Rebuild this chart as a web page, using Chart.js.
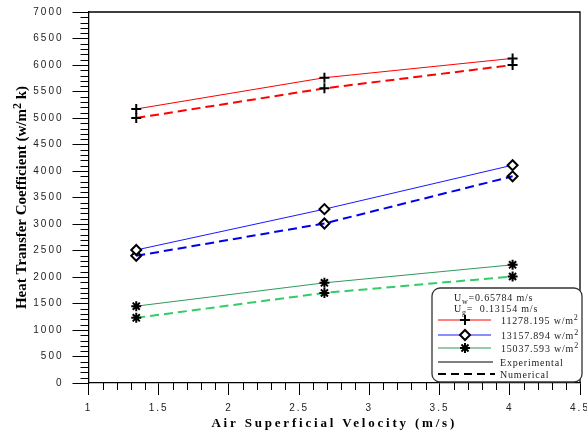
<!DOCTYPE html>
<html lang="en">
<head>
<meta charset="UTF-8">
<title>Heat Transfer Coefficient</title>
<script src="https://cdn.jsdelivr.net/npm/chart.js"></script>
<style>
  html, body { margin: 0; padding: 0; background: #fff; }
  #wrap { width: 587px; height: 434px; }
</style>
</head>
<body>
<div id="wrap"><canvas id="myChart" width="587" height="434"></canvas></div>
<script>
// air superficial velocity (m/s)
const airVelocity = [1.34, 2.68, 4.02];

// heat flux 11278.195 w/m2
const exp11278 = [5170, 5760, 6125];
const num11278 = [5000, 5560, 6000];
// heat flux 13157.894 w/m2
const exp13157 = [2510, 3280, 4110];
const num13157 = [2400, 3010, 3900];
// heat flux 15037.593 w/m2
const exp15037 = [1450, 1890, 2230];
const num15037 = [1230, 1700, 2010];

const fluxLabels = ['11278.195', '13157.894', '15037.593'];
const xTitle = 'Air Superficial Velocity (m/s)';
const yTitle = 'Heat Transfer Coefficient (w/m';

function pts(ys) {
  return ys.map((y, i) => ({ x: airVelocity[i], y: y }));
}

const red = '#ff0000', blue = '#1a1aff', blueDash = '#0000ee';
const green = '#2f9a5c', greenDash = '#33cc66';

function ds(label, ys, color, dashed, style, fill) {
  return {
    label: label,
    data: pts(ys),
    borderColor: color,
    borderWidth: dashed ? 2 : 1,
    borderDash: dashed ? [9, 5] : [],
    pointStyle: style,
    pointRadius: 5,
    pointBorderColor: '#000',
    pointBackgroundColor: fill,
    pointBorderWidth: 2,
    tension: 0,
    fill: false
  };
}

const serif = '"Liberation Serif", "Times New Roman", serif';

function drawParts(ctx, parts, x, y, size) {
  // parts: [text, 'sub'|'sup'|undefined]
  parts.forEach(p => {
    let s = size, dy = 0;
    if (p[1] === 'sub') { s = size * 0.8; dy = 3; }
    if (p[1] === 'sup') { s = size * 0.8; dy = -4; }
    ctx.font = s + 'px ' + serif;
    ctx.fillText(p[0], x, y + dy);
    x += ctx.measureText(p[0]).width;
  });
}

const extras = {
  id: 'extras',
  beforeDraw(chart) {
    const ctx = chart.ctx;
    ctx.save();
    ctx.fillStyle = '#fff';
    ctx.fillRect(0, 0, chart.width, chart.height);
    ctx.restore();
    ctx.letterSpacing = '2px';
  },
  afterDraw(chart) {
    const ctx = chart.ctx;
    const a = chart.chartArea;
    const xs = chart.scales.x, ys = chart.scales.y;
    ctx.save();
    ctx.letterSpacing = '0px';
    ctx.strokeStyle = '#000';
    ctx.lineWidth = 1.3;

    // top and right frame
    ctx.beginPath();
    ctx.moveTo(a.left, a.top);
    ctx.lineTo(a.right, a.top);
    ctx.lineTo(a.right, a.bottom);
    ctx.stroke();

    // minor ticks
    ctx.lineWidth = 1;
    ctx.beginPath();
    for (let v = 100; v < 7000; v += 100) {
      if (v % 500 === 0) continue;
      const py = Math.round(ys.getPixelForValue(v)) + 0.5;
      ctx.moveTo(a.left - 8, py);
      ctx.lineTo(a.left, py);
    }
    for (let k = 11; k < 45; k++) {
      if (k % 5 === 0) continue;
      const px = Math.round(xs.getPixelForValue(k / 10)) + 0.5;
      ctx.moveTo(px, a.bottom);
      ctx.lineTo(px, a.bottom + 7);
    }
    ctx.stroke();

    // axis titles
    ctx.fillStyle = '#000';
    ctx.textAlign = 'center';
    ctx.textBaseline = 'alphabetic';
    ctx.font = 'bold 13px ' + serif;
    ctx.letterSpacing = '2.8px';
    ctx.fillText(xTitle, (a.left + a.right) / 2, 427);

    ctx.letterSpacing = '0px';
    ctx.save();
    ctx.translate(26, (a.top + a.bottom) / 2);
    ctx.rotate(-Math.PI / 2);
    ctx.font = 'bold 15px ' + serif;
    const w1 = ctx.measureText(yTitle).width;
    ctx.font = 'bold 12px ' + serif;
    const w2 = ctx.measureText('2').width;
    ctx.font = 'bold 15px ' + serif;
    const w3 = ctx.measureText(' k)').width;
    let x0 = -(w1 + w2 + w3) / 2;
    ctx.textAlign = 'left';
    ctx.fillText(yTitle, x0, 0);
    ctx.font = 'bold 12px ' + serif;
    ctx.fillText('2', x0 + w1, -5);
    ctx.font = 'bold 15px ' + serif;
    ctx.fillText(' k)', x0 + w1 + w2, 0);
    ctx.restore();

    // legend box
    const bx = 432, by = 288, bw = 150, bh = 94;
    ctx.fillStyle = '#fff';
    ctx.strokeStyle = '#333';
    ctx.lineWidth = 1.3;
    ctx.beginPath();
    ctx.roundRect(bx, by, bw, bh, 8);
    ctx.fill();
    ctx.stroke();

    ctx.fillStyle = '#222';
    ctx.textAlign = 'left';
    ctx.letterSpacing = '0.8px';
    drawParts(ctx, [['U'], ['w', 'sub'], ['=0.65784 m/s']], 454, 301, 10);
    drawParts(ctx, [['U'], ['g', 'sub'], ['=  0.13154 m/s']], 454, 312, 10);

    const sets = chart.data.datasets;
    const rows = [[0, 320], [2, 335], [4, 348]];
    rows.forEach((r, i) => {
      const d = sets[r[0]];
      ctx.setLineDash([]);
      ctx.strokeStyle = d.borderColor;
      ctx.lineWidth = 1;
      ctx.beginPath();
      ctx.moveTo(438, r[1]);
      ctx.lineTo(491, r[1]);
      ctx.stroke();
      ctx.strokeStyle = '#000';
      ctx.fillStyle = d.pointBackgroundColor;
      ctx.lineWidth = 2;
      Chart.helpers.drawPoint(ctx, {
        pointStyle: d.pointStyle, radius: 5, rotation: 0, borderWidth: 2
      }, 465, r[1]);
      ctx.fillStyle = '#222';
      drawParts(ctx, [[fluxLabels[i] + ' w/m'], ['2', 'sup']], 501, r[1] + 3.5, 10);
    });

    ctx.strokeStyle = '#000';
    ctx.lineWidth = 1;
    ctx.setLineDash([]);
    ctx.beginPath();
    ctx.moveTo(438, 362);
    ctx.lineTo(493, 362);
    ctx.stroke();
    ctx.lineWidth = 2;
    ctx.setLineDash([8, 5]);
    ctx.beginPath();
    ctx.moveTo(438, 374);
    ctx.lineTo(495, 374);
    ctx.stroke();
    ctx.setLineDash([]);
    drawParts(ctx, [['Experimental']], 500, 365.5, 10);
    drawParts(ctx, [['Numerical']], 500, 377.5, 10);

    ctx.restore();
  }
};

const ctx = document.getElementById('myChart').getContext('2d');
const myChart = new Chart(ctx, {
  type: 'line',
  data: {
    datasets: [
      ds('11278.195 Experimental', exp11278, red, false, 'cross', '#000'),
      ds('11278.195 Numerical', num11278, red, true, 'cross', '#000'),
      ds('13157.894 Experimental', exp13157, blue, false, 'rectRot', '#fff'),
      ds('13157.894 Numerical', num13157, blueDash, true, 'rectRot', 'rgba(255,255,255,0)'),
      ds('15037.593 Experimental', exp15037, green, false, 'star', '#000'),
      ds('15037.593 Numerical', num15037, greenDash, true, 'star', '#000')
    ]
  },
  options: {
    responsive: false,
    animation: false,
    layout: { padding: { top: 12, right: 6, left: 0, bottom: 0 } },
    plugins: { legend: { display: false }, tooltip: { enabled: false } },
    scales: {
      x: {
        type: 'linear',
        min: 1,
        max: 4.5,
        afterFit(s) { s.height = 51; s.paddingLeft = 0; s.paddingRight = 0; },
        ticks: {
          stepSize: 0.5,
          padding: 7,
          color: '#222',
          font: { family: '"Liberation Sans", Arial, sans-serif', size: 10 },
          maxRotation: 0,
          callback: v => String(v)
        },
        grid: { drawOnChartArea: false, tickLength: 12, tickColor: '#000', tickWidth: 1 },
        border: { color: '#000', width: 1.3 }
      },
      y: {
        min: 0,
        max: 7000,
        afterFit(s) { s.width = 88.5; s.paddingTop = 0; s.paddingBottom = 0; },
        ticks: {
          stepSize: 500,
          padding: 9,
          color: '#222',
          font: { family: '"Liberation Sans", Arial, sans-serif', size: 10 },
          callback: v => String(v)
        },
        grid: { drawOnChartArea: false, tickLength: 16, tickColor: '#000', tickWidth: 1 },
        border: { color: '#000', width: 1.3 }
      }
    }
  },
  plugins: [extras]
});
</script>
</body>
</html>
